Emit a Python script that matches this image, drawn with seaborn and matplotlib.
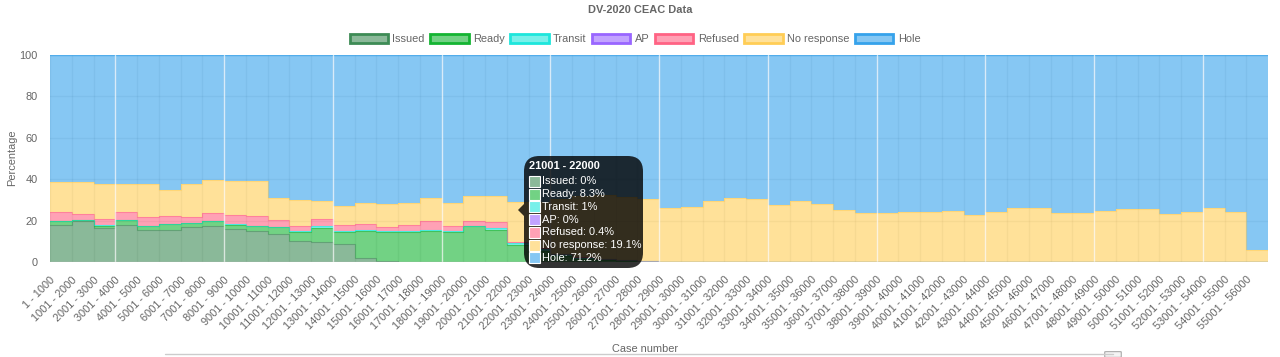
import matplotlib
matplotlib.use("Agg")
import matplotlib.pyplot as plt
from matplotlib.patches import Patch, FancyBboxPatch, Polygon, Rectangle
import numpy as np
import seaborn as sns

# case number ranges, 1000 per bin
labels = [f"{i * 1000 + 1} - {(i + 1) * 1000}" for i in range(56)]

# percentages (Hole = rest up to 100)
issued = [17.9, 19.9, 16.6, 17.9, 15.6, 15.7, 16.7, 17.5, 16.1, 14.8,
          13.6, 10.3, 9.8, 8.7, 1.8, 0.5, 0.2, 0.2, 0.1, 0.1,
          0, 0, 0, 0, 0, 0, 0, 0] + [0] * 28
ready = [1.9, 0.5, 0.8, 2.2, 1.7, 2.6, 1.9, 2.1, 1.8, 2.5,
         3.2, 4.4, 6.8, 6.0, 13.2, 14.0, 14.2, 15.0, 14.6, 17.1,
         15.5, 8.3, 5.5, 3.0, 1.5, 0.8, 0.4, 0.2] + [0] * 28
transit = [0.1, 0, 0.6, 0.1, 0.1, 0.1, 0.1, 0.1, 0.4, 0.1,
           0.1, 0.1, 0.8, 0.1, 0.6, 0.3, 0.4, 0.5, 0.4, 0.3,
           0.7, 1.0, 1.0, 0.8, 0.6, 0.5, 0.4, 0.3] + [0] * 28
ap = [0] * 56
refused = [4.2, 2.8, 2.8, 3.9, 4.4, 3.7, 3.1, 4.1, 4.4, 4.7,
           3.4, 2.6, 3.4, 3.1, 2.8, 2.2, 2.9, 4.0, 2.3, 2.2,
           3.0, 0.4, 0.3, 0.2, 0.2, 0.1, 0.1, 0] + [0] * 28
no_response = [14.4, 15.4, 16.7, 13.4, 15.7, 12.5, 15.7, 15.7, 16.2, 16.9,
               10.7, 12.4, 8.5, 9.3, 10.0, 11.0, 10.7, 11.3, 11.0, 12.3,
               12.8, 19.1, 22.2, 26.2, 29.7, 31.1, 30.4, 29.8,
               26.2, 26.7, 29.3, 31.0, 30.3, 27.5, 29.3, 28.2, 24.9, 23.8,
               23.8, 24.1, 24.1, 24.6, 22.8, 24.1, 25.9, 25.9, 23.8, 23.8,
               24.6, 25.4, 25.4, 23.3, 24.1, 25.9, 24.1, 5.6]

names = ["Issued", "Ready", "Transit", "AP", "Refused", "No response", "Hole"]
borders = ["#3d8b55", "#14b432", "#1ee6dc", "#9966ff", "#ff6384", "#ffcd56", "#36a2eb"]

sns.set_theme(style="white")
plt.rcParams["font.family"] = ["Liberation Sans", "DejaVu Sans"]
grey = "#666666"
fs = 7.9

W, H = 1280, 357
fig = plt.figure(figsize=(W / 100, H / 100), dpi=100)
ax = fig.add_axes([50 / W, 1 - 262 / H, 1218 / W, 207 / H])


def on_white(c, a=0.6):
    r, g, b = matplotlib.colors.to_rgb(c)
    return (1 - a + a * r, 1 - a + a * g, 1 - a + a * b)


series = [issued, ready, transit, ap, refused, no_response]
x = np.arange(57)
base = np.zeros(56)
for vals, col in zip(series, borders):
    v = np.array(vals, dtype=float)
    top = base + v
    ax.fill_between(x, np.append(base, base[-1]), np.append(top, top[-1]),
                    step="post", facecolor=col, alpha=0.6, lw=0, zorder=2)
    if v.max() > 0:
        ax.step(x, np.append(top, top[-1]), where="post", color=col, lw=0.8, alpha=0.5, zorder=3)
    base = top
ax.fill_between(x, np.append(base, base[-1]), 100, step="post",
                facecolor=borders[-1], alpha=0.6, lw=0, zorder=2)
ax.axhline(100, color=borders[-1], lw=1, alpha=0.6, zorder=3)

ax.set_xlim(0, 56)
ax.set_ylim(0, 100)
ax.set_xticks(np.arange(56))
ax.set_xticklabels(labels, rotation=45, ha="right", rotation_mode="anchor", fontsize=7.9, color=grey)
ax.set_yticks(range(0, 101, 20))
ax.set_yticklabels([str(t) for t in range(0, 101, 20)], fontsize=fs, color=grey)
ax.tick_params(axis="both", length=6, color="#dddddd", width=1, pad=3)
ax.grid(True, color="#000000", alpha=0.08, lw=1, zorder=1)
ax.set_axisbelow(True)
for xx in range(3, 56, 5):
    ax.axvline(xx, color="white", lw=1, alpha=0.7, zorder=4)
for s in ax.spines.values():
    s.set_visible(False)
ax.axhline(0, color="#bbbbbb", lw=1, zorder=5)

fig.text(12 / W, 1 - 158 / H, "Percentage", rotation=90, ha="center", va="center",
         fontsize=fs, color=grey)
fig.text(645 / W, 1 - 349 / H, "Case number", ha="center", va="center", fontsize=fs, color=grey)
fig.text(640 / W, 1 - 10 / H, "DV-2020 CEAC Data", ha="center", va="center",
         fontsize=fs, color=grey, fontweight="bold")

# slider line at the bottom of the page
fig.add_artist(plt.Line2D([165 / W, 1113 / W], [1 - 354 / H, 1 - 354 / H],
                          transform=fig.transFigure, color="#cccccc", lw=1))
fig.add_artist(FancyBboxPatch((1106 / W, 1 - 357 / H), 14 / W, 5 / H, boxstyle="round,pad=0.001",
                              transform=fig.transFigure, fc="#f4f4f4", ec="#aaaaaa", lw=0.8))

handles = [Patch(facecolor=on_white(c), edgecolor=c, linewidth=2) for c in borders]
fig.legend(handles, names, loc="center", bbox_to_anchor=(635 / W, 1 - 39 / H), ncol=7, frameon=False,
           fontsize=fs, handlelength=3.5, handleheight=1.0, handletextpad=0.4, columnspacing=0.5,
           labelcolor=grey)

# hover tooltip for 21001 - 22000
tip = [0, 8.3, 1, 0, 0.4, 19.1, 71.2]


def fx(px):
    return px / W


def fy(py):
    return 1 - py / H


fig.add_artist(FancyBboxPatch((fx(524), fy(268)), 119 / W, 112 / H, boxstyle="round,pad=0,rounding_size=0.012",
                              transform=fig.transFigure, fc=(0, 0, 0, 0.8), ec="none", zorder=10,
                              mutation_aspect=W / H))
fig.add_artist(Polygon([[fx(518), fy(210)], [fx(524), fy(204)], [fx(524), fy(216)]], closed=True,
                       transform=fig.transFigure, fc=(0, 0, 0, 0.8), ec="none", zorder=10))
fig.text(fx(529), fy(166), labels[21], color="white", fontsize=fs, fontweight="bold",
         va="center", ha="left", zorder=11)
for k, (nm, val, col) in enumerate(zip(names, tip, borders)):
    yy = 181.5 + k * 12.7
    fig.add_artist(Rectangle((fx(529), fy(yy + 5.5)), 11 / W, 11 / H, transform=fig.transFigure,
                             fc=on_white(col), ec="white", lw=0.8, zorder=11))
    fig.text(fx(542), fy(yy), f"{nm}: {val:g}%", color="white", fontsize=fs,
             va="center", ha="left", zorder=11)

fig.savefig("out.png", dpi=100)
